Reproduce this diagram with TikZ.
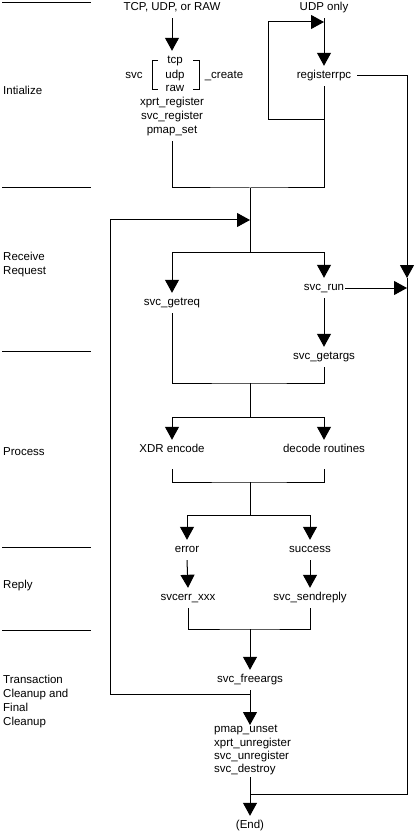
\documentclass[tikz,border=0pt]{standalone}
\usepackage{fontspec}
\setmainfont{Liberation Sans}
\usetikzlibrary{arrows.meta,calc}
\begin{document}
\begin{tikzpicture}[x=1pt,y=-1pt,
  every node/.style={font=\fontsize{11.5}{14}\selectfont},
  lbl/.style={inner xsep=1pt, inner ysep=0pt, minimum height=20pt, text height=8pt, text depth=2.5pt},
  sec/.style={anchor=west, align=left, inner sep=0pt},
  ln/.style={line width=1pt},
  arr/.style={ln, -{Triangle[width=14pt,length=13pt]}}]
\useasboundingbox (0,0) rectangle (416,834);

% section separators
\foreach \yy in {3,188,351,547,630} \draw[ln] (2,\yy) -- (91,\yy);

% section labels
\node[sec] (sInit) at (3,90) {Intialize};
\node[sec] (sRecv) at (3,265) {Receive\\Request};
\node[sec] (sProc) at (3,452) {Process};
\node[sec] (sRepl) at (3,586) {Reply};
\node[sec] (sTran) at (3,702) {Transaction\\Cleanup and\\Final\\Cleanup};

% initialize
\node[lbl] (src) at (172,8) {TCP, UDP, or RAW};
\node[lbl] (udponly) at (324,8) {UDP only};
\node[lbl] (tcp) at (175,61) {tcp};
\node[lbl] (udpc) at (175,76) {udp};
\node[lbl] (raw) at (175,89) {raw};
\node[lbl] (svcp) at (134,76) {svc};
\node[lbl] (create) at (224,76) {\_create};
\node[lbl] (xprt) at (172,103) {xprt\_register};
\node[lbl] (svcreg) at (172,117) {svc\_register};
\node[lbl] (pmapset) at (172,131) {pmap\_set};
\node[lbl] (regrpc) at (324,76) {registerrpc};

\draw[ln] (158,61) -- (152,61) -- (152,90) -- (158,90);
\draw[ln] (193,61) -- (199,61) -- (199,90) -- (193,90);

\draw[arr] (src.south) -- (src.south |- tcp.north);
\draw[arr] (udponly.south) -- (udponly.south |- regrpc.north);

\coordinate (j1) at (250,188);
\coordinate (rl) at (324,120);
\coordinate (rt) at (324,22);
\draw[ln] (pmapset.south) |- (j1) -| (regrpc.south);
\draw[arr] (rl) -- (268,120) |- (rt);

% right side line
\coordinate (rv) at (407,278);
\coordinate (endj) at (250,794);
\draw[arr, shorten <=5pt] (regrpc.east) -| (rv);
\draw[ln] (rv) |- (endj);

% receive request
\coordinate (la) at (250,220);
\coordinate (j2) at (250,252);
\node[lbl] (getreq) at (172,303) {svc\_getreq};
\node[lbl] (svcrun) at (324,288) {svc\_run};
\node[lbl] (svcargs) at (324,357) {svc\_getargs};
\draw[ln] (j1) -- (j2);
\draw[arr] (j2) -| (getreq.north);
\draw[arr] (j2) -| (svcrun.north);
\draw[arr] (svcrun.south) -- (svcargs.north);
\draw[arr] (svcrun.east) -- (svcrun.east -| rv);

% process
\coordinate (j3) at (250,383);
\coordinate (j4) at (250,417);
\node[lbl] (xdr) at (172,450) {XDR encode};
\node[lbl] (decode) at (324,450) {decode routines};
\draw[ln] (getreq.south) |- (j3) -| (svcargs.south);
\draw[ln] (j3) -- (j4);
\draw[arr] (j4) -| (xdr.north);
\draw[arr] (j4) -| (decode.north);

\coordinate (j5) at (250,482);
\coordinate (j6) at (250,515);
\draw[ln, shorten <=9pt, shorten >=9pt] (xdr.south) |- (j5) -| (decode.south);
\draw[ln] (j5) -- (j6);

% reply
\node[lbl] (error) at (187,550) {error};
\node[lbl] (success) at (310,550) {success};
\node[lbl] (svcerr) at (188,598) {svcerr\_xxx};
\node[lbl] (sendreply) at (310,598) {svc\_sendreply};
\draw[arr] (j6) -| (error.north);
\draw[arr] (j6) -| (success.north);
\draw[arr] (error.south) -- (svcerr.north);
\draw[arr] (success.south) -- (sendreply.north);

\coordinate (j7) at (250,629);
\draw[ln] (svcerr.south) |- (j7) -| (sendreply.south);

% cleanup
\node[lbl] (freeargs) at (250,680) {svc\_freeargs};
\draw[arr] (j7) -- (freeargs.north);
\coordinate (fj) at (250,694);
\draw[arr] (fj) -- (110,694) |- (la);

\node[align=left, inner sep=0pt, anchor=north west, font=\fontsize{11.5}{13.4}\selectfont] (cleanup) at (214,725)
  {pmap\_unset\\xprt\_unregister\\svc\_unregister\\svc\_destroy};
\draw[arr] (freeargs.south) -- (freeargs.south |- cleanup.north);

\node[lbl] (end) at (250,826) {(End)};
\draw[arr, shorten <=2pt] (cleanup.south -| freeargs) -- (end.north);
\end{tikzpicture}
\end{document}
